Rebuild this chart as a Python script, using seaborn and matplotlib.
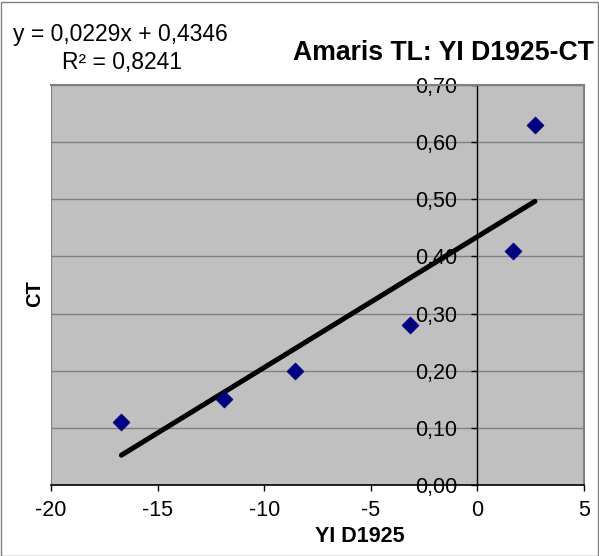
import matplotlib
matplotlib.use("Agg")
import matplotlib.pyplot as plt
import seaborn as sns
import numpy as np
import pandas as pd
from matplotlib.ticker import FuncFormatter, MultipleLocator

sns.set_style("white")
plt.rcParams['font.family'] = ['Liberation Sans', 'DejaVu Sans']
plt.rcParams['text.color'] = 'black'
plt.rcParams['xtick.labelcolor'] = 'black'
plt.rcParams['ytick.labelcolor'] = 'black'

yi = [-16.7, -11.9, -8.55, -3.15, 1.65, 2.7]
ct = [0.11, 0.15, 0.20, 0.28, 0.41, 0.63]
slope = 0.0229
intercept = 0.4346
r2 = 0.8241
title = "Amaris TL: YI D1925-CT"
xlabel = "YI D1925"
ylabel = "CT"

df = pd.DataFrame({"YI": yi, "CT": ct})

fig = plt.figure(figsize=(5.99, 5.56), dpi=100)
ax = fig.add_axes([51/599, 1-485/556, (584-51)/599, (485-85)/556])
ax.set_facecolor("#c0c0c0")

ax.set_xlim(-20, 5)
ax.set_ylim(0, 0.70)
ax.yaxis.set_major_locator(MultipleLocator(0.1))
ax.xaxis.set_major_locator(MultipleLocator(5))
ax.yaxis.grid(True, color="#808080", linewidth=1)
ax.set_axisbelow(True)

xs = np.array([min(yi), max(yi)])
sns.lineplot(x=xs, y=slope*xs+intercept, ax=ax, color="black", linewidth=3.6, zorder=3)
sns.scatterplot(data=df, x="YI", y="CT", ax=ax, marker="D", s=75, color="#000080",
                edgecolor="#000080", linewidth=0.5, zorder=4)

ax.spines['left'].set_position(('data', 0))
ax.spines['left'].set_color("black")
ax.spines['left'].set_linewidth(1)
for s in ['top', 'right']:
    ax.spines[s].set_visible(True)
    ax.spines[s].set_color("#808080")
    ax.spines[s].set_linewidth(1.5)
ax.spines['bottom'].set_color("black")
ax.spines['bottom'].set_linewidth(1.2)

# gray plot-area border on the left edge
ax.axvline(-20, color="#808080", linewidth=1.5, zorder=1)

ax.tick_params(axis='y', direction='out', length=4.3, width=1, color='black', labelcolor='black',
               labelsize=15.5, pad=10, left=True)
ax.tick_params(axis='x', direction='out', length=4, width=1, color='black', labelcolor='black',
               labelsize=15.5, pad=7, bottom=True)
ax.yaxis.set_major_formatter(FuncFormatter(lambda v, p: f"{v:.2f}".replace(".", ",")))
ax.xaxis.set_major_formatter(FuncFormatter(lambda v, p: f"{int(round(v))}"))

ax.set_xlabel("")
ax.set_ylabel("")
fig.text(360/599, 1-536/556, xlabel, ha='center', va='center', fontsize=15.5, fontweight='bold', color='black')
fig.text(35/599, 1-294/556, ylabel, ha='center', va='center', fontsize=14.5, fontweight='bold', rotation=90, color='black')
fig.text(443/599, 1-53/556, title, ha='center', va='center', fontsize=19.2, fontweight='bold', color='black')
fig.text(13/599, 1-35/556, f"y = {slope:.4f}x + {intercept:.4f}".replace(".", ","), ha='left', va='center',
         fontsize=16.5, color='black')
fig.text(62/599, 1-62/556, f"R² = {r2:.4f}".replace(".", ","), ha='left', va='center', fontsize=16.5, color='black')

fig.patches.append(plt.Rectangle((0.5/599, 0.5/556), 597/599, 554/556, transform=fig.transFigure,
                                 fill=False, edgecolor="#808080", linewidth=1))

fig.savefig("out.png", dpi=100, facecolor="white")
